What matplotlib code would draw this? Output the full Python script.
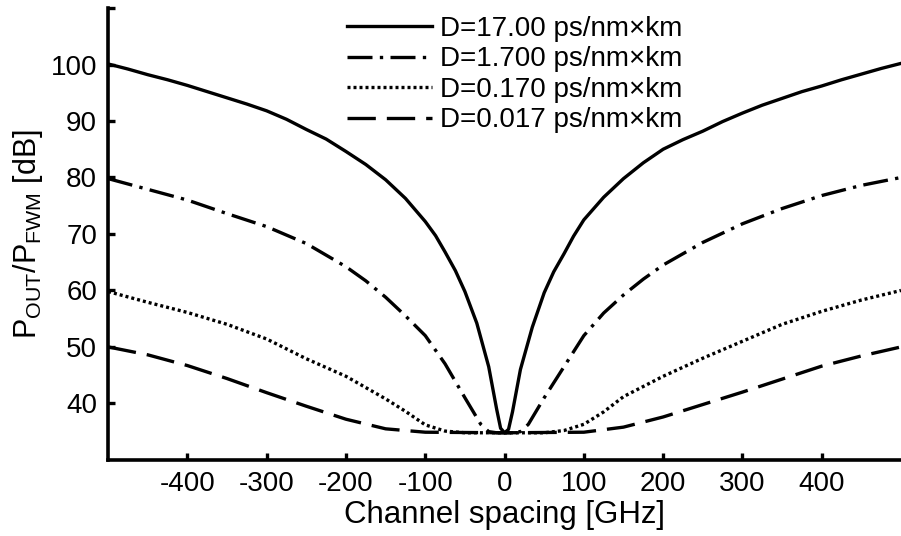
import matplotlib
matplotlib.use("Agg")
from matplotlib import pyplot as plt

plt.rcParams['font.family'] = ['Liberation Sans', 'DejaVu Sans']
plt.rcParams['mathtext.fontset'] = 'custom'
plt.rcParams['mathtext.rm'] = 'Liberation Sans'
plt.rcParams['mathtext.it'] = 'Liberation Sans:italic'
plt.rcParams['mathtext.bf'] = 'Liberation Sans:bold'
plt.rcParams['axes.unicode_minus'] = False

# channel spacing [GHz] and P_OUT/P_FWM [dB] for each dispersion value
x_d17 = [-500, -475, -450, -425, -400, -375, -350, -325, -300, -275, -250, -225, -200, -175, -150, -125,
         -100, -87, -75, -62, -50, -35, -20, -10, -5, 0,
         5, 10, 20, 35, 50, 62, 75, 87, 100, 125, 150, 175, 200, 225, 250, 275, 300, 325, 350, 375,
         400, 425, 450, 475, 500]
y_d17 = [100.1, 99.2, 98.2, 97.3, 96.3, 95.2, 94.1, 93.0, 91.8, 90.3, 88.5, 86.8, 84.6, 82.3, 79.6, 76.3,
         72.2, 69.7, 66.8, 63.5, 59.8, 54.2, 46.5, 39.0, 35.6, 34.8,
         35.4, 38.5, 46.0, 53.5, 59.6, 63.3, 66.5, 69.6, 72.5, 76.5, 79.8, 82.6, 85.0, 86.7, 88.2, 89.9,
         91.4, 92.8, 94.0, 95.2, 96.2, 97.3, 98.3, 99.3, 100.2]

x_d1_7 = [-500, -450, -400, -350, -300, -250, -200, -175, -150, -125, -100, -75, -50, -30, -20, -10, 0,
          10, 20, 30, 50, 75, 100, 125, 150, 175, 200, 250, 300, 350, 400, 450, 500]
y_d1_7 = [79.8, 77.9, 76.0, 73.6, 71.3, 68.3, 64.2, 61.7, 58.8, 55.5, 52.0, 47.0, 41.0, 36.3, 35.0, 34.8, 34.8,
          34.8, 35.0, 36.3, 41.0, 46.5, 52.0, 56.0, 59.2, 62.0, 64.5, 68.5, 71.8, 74.5, 76.8, 78.6, 80.0]

x_d0_17 = [-500, -450, -400, -350, -300, -250, -200, -150, -125, -100, -75, -50, 0,
           50, 75, 100, 125, 150, 175, 200, 250, 300, 350, 400, 450, 500]
y_d0_17 = [59.8, 57.9, 56.1, 54.0, 51.4, 47.9, 44.8, 40.8, 38.6, 36.2, 35.1, 34.8, 34.8,
           34.8, 35.2, 36.3, 38.5, 41.2, 43.0, 44.8, 48.0, 51.0, 54.0, 56.3, 58.3, 60.0]

x_d0_017 = [-500, -450, -400, -350, -300, -250, -200, -150, -100, 0,
            100, 150, 200, 250, 300, 350, 400, 450, 500]
y_d0_017 = [50.0, 48.6, 46.7, 44.4, 41.9, 39.5, 37.2, 35.5, 34.9, 34.8,
            34.9, 35.8, 37.6, 39.8, 42.0, 44.3, 46.6, 48.4, 50.0]

labels = ["D=17.00 ps/nm×km", "D=1.700 ps/nm×km", "D=0.170 ps/nm×km", "D=0.017 ps/nm×km"]
xticks = [-400, -300, -200, -100, 0, 100, 200, 300, 400]
yticks = [40, 50, 60, 70, 80, 90, 100, 110]

fig = plt.figure(figsize=(9.01, 5.36), dpi=100)
ax = fig.add_axes([0.12, 0.142, 0.88, 0.843])

lw = 2.4
ax.plot(x_d17, y_d17, color='black', lw=lw, ls='-', label=labels[0])
ax.plot(x_d1_7, y_d1_7, color='black', lw=lw, ls=(0, (7.5, 2.2, 1.0, 2.2)), label=labels[1])
ax.plot(x_d0_17, y_d0_17, color='black', lw=lw, ls=(0, (0.9, 0.9)), label=labels[2])
ax.plot(x_d0_017, y_d0_017, color='black', lw=lw, ls=(0, (8.5, 3.3)), label=labels[3])

ax.set_xlim(-500, 500)
ax.set_ylim(30, 110)
ax.set_xticks(xticks)
ax.set_yticks(yticks)
ax.set_yticklabels([str(v) if v < 110 else "" for v in yticks])

for side in ['top', 'right']:
    ax.spines[side].set_visible(False)
for side in ['left', 'bottom']:
    ax.spines[side].set_linewidth(2.6)
ax.tick_params(direction='in', length=5, width=2.4, labelsize=20, pad=8)

ax.set_xlabel("Channel spacing [GHz]", fontsize=22.5)
ax.xaxis.set_label_coords(0.5, -0.088)
ax.xaxis.label.set_va('top')
ax.set_ylabel(r"P$_{\rm OUT}$/P$_{\rm FWM}$ [dB]", fontsize=22)
ax.yaxis.set_label_coords(-0.079, 0.5)

ax.legend(loc='upper left', bbox_to_anchor=(347 / 901, 1 - 16 / 536), bbox_transform=fig.transFigure,
          frameon=False, fontsize=20, handlelength=3.05, handletextpad=0.3, labelspacing=0.16,
          borderpad=0, borderaxespad=0)

fig.savefig("out.png", dpi=100)
plt.close()
